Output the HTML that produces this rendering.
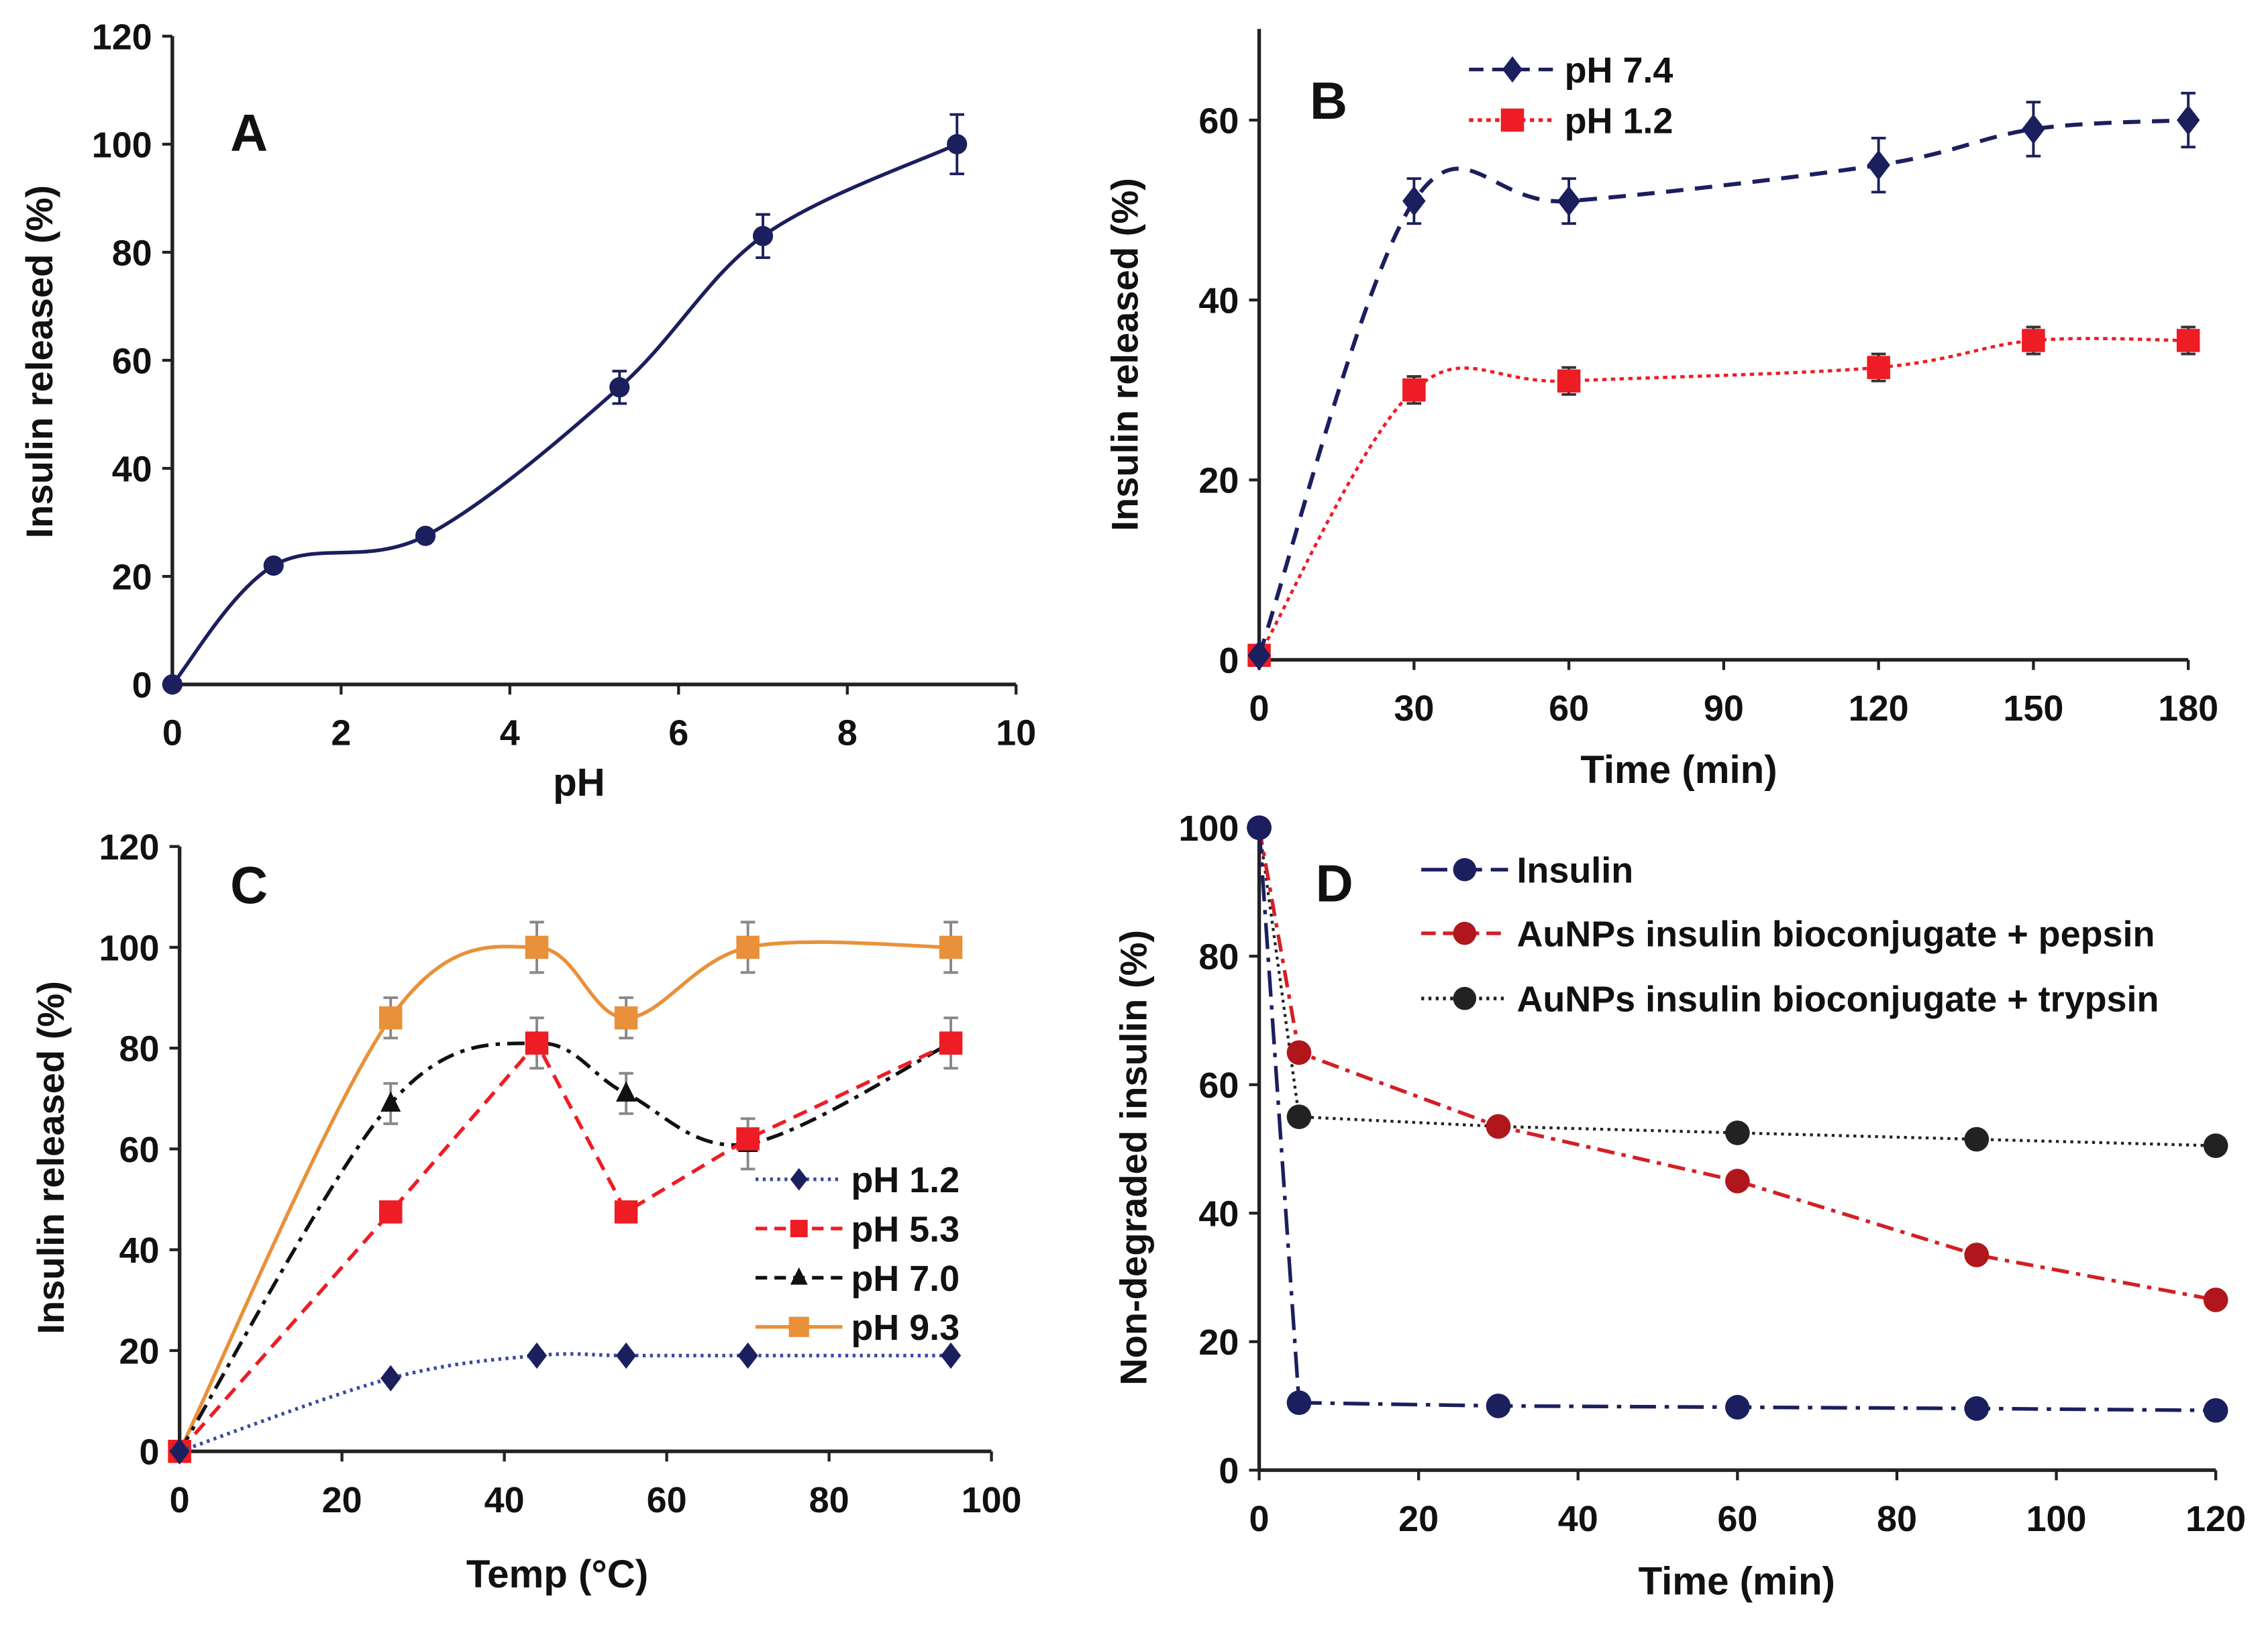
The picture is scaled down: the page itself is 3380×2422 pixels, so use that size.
<!DOCTYPE html>
<html><head><meta charset="utf-8">
<style>
html,body{margin:0;padding:0;background:#fff;}
svg{display:block;}
text{font-family:"Liberation Sans",sans-serif;font-weight:bold;fill:#111;}
</style></head>
<body>
<svg id="fig" width="3380" height="2422" viewBox="0 0 1567 1123" xmlns="http://www.w3.org/2000/svg"></svg>
<script>
// ---- Panel A data ----
const aX = [0, 1.2, 3, 5.3, 7, 9.3];
const aY = [0, 22, 27.5, 55, 83, 100];
const aErr = [0.5, 1, 1, 3, 4, 5.5];
const aXTicks = [0, 2, 4, 6, 8, 10];
const aYTicks = [0, 20, 40, 60, 80, 100, 120];
// ---- Panel B data ----
const bX = [0, 30, 60, 120, 150, 180];
const b74 = [0.5, 51, 51, 55, 59, 60];
const b74Err = [0.5, 2.5, 2.5, 3, 3, 3];
const b12 = [0.5, 30, 31, 32.5, 35.5, 35.5];
const b12Err = [0.5, 1.5, 1.5, 1.5, 1.5, 1.5];
const bXTicks = [0, 30, 60, 90, 120, 150, 180];
const bYTicks = [0, 20, 40, 60];
// ---- Panel C data ----
const cX = [0, 26, 44, 55, 70, 95];
const c12 = [0, 14.5, 19, 19, 19, 19];
const c53 = [0, 47.5, 81, 47.5, 62, 81];
const c70 = [0, 69, 81, 71, 61, 81];
const c93 = [0, 86, 100, 86, 100, 100];
const cErr = [0, 4, 5, 4, 5, 5];
const cXTicks = [0, 20, 40, 60, 80, 100];
const cYTicks = [0, 20, 40, 60, 80, 100, 120];
// ---- Panel D data ----
const dX = [0, 5, 30, 60, 90, 120];
const dInsulin = [100, 10.5, 10, 9.8, 9.6, 9.3];
const dPepsin = [100, 65, 53.5, 45, 33.5, 26.5];
const dTrypsin = [100, 55, 53.5, 52.5, 51.5, 50.5];
const dXTicks = [0, 20, 40, 60, 80, 100, 120];
const dYTicks = [0, 20, 40, 60, 80, 100];

const NS = "http://www.w3.org/2000/svg";
const svg = document.getElementById('fig');
function mk(tag, attrs, parent) {
  const e = document.createElementNS(NS, tag);
  for (const k in attrs) e.setAttribute(k, attrs[k]);
  (parent || svg).appendChild(e);
  return e;
}
function txt(x, y, s, size, anchor, parent) {
  const t = mk('text', {x: x, y: y, 'font-size': size, 'text-anchor': anchor || 'middle'}, parent);
  t.textContent = s;
  return t;
}
function scale(d0, d1, r0, r1) { return v => r0 + (v - d0) / (d1 - d0) * (r1 - r0); }
function smoothPath(pts) {
  let d = 'M' + pts[0][0] + ',' + pts[0][1];
  for (let i = 0; i < pts.length - 1; i++) {
    const p0 = pts[i - 1] || pts[i], p1 = pts[i], p2 = pts[i + 1], p3 = pts[i + 2] || p2;
    const c1 = [p1[0] + (p2[0] - p0[0]) / 6, p1[1] + (p2[1] - p0[1]) / 6];
    const c2 = [p2[0] - (p3[0] - p1[0]) / 6, p2[1] - (p3[1] - p1[1]) / 6];
    d += ' C' + c1 + ' ' + c2 + ' ' + p2;
  }
  return d;
}
function linePath(pts) { return 'M' + pts.map(p => p.join(',')).join(' L'); }
function axes(g, sx, sy, xTicks, yTicks, x0, y0, xEnd, yTop) {
  const ax = mk('line', {x1: sx(x0), y1: sy(y0), x2: sx(xEnd), y2: sy(y0), stroke: '#222', 'stroke-width': 2.5}, g);
  
  
  const ay = mk('line', {x1: sx(x0), y1: sy(y0), x2: sx(x0), y2: yTop, stroke: '#222', 'stroke-width': 2.5}, g);
  
  
  xTicks.forEach(v => {
    mk('line', {x1: sx(v), y1: sy(y0), x2: sx(v), y2: sy(y0) + 7, stroke: '#222', 'stroke-width': 2}, g);
    const t = txt(sx(v), sy(y0) + 42, String(v), 25, 'middle', g);
    
    
  });
  yTicks.forEach(v => {
    mk('line', {x1: sx(x0) - 7, y1: sy(v), x2: sx(x0), y2: sy(v), stroke: '#222', 'stroke-width': 2}, g);
    const t = txt(sx(x0) - 14, sy(v) + 9, String(v), 25, 'end', g);
    
    
  });
}
function marker(g, shape, x, y, size, color) {
  if (shape === 'circle') return mk('circle', {cx: x, cy: y, r: size, fill: color}, g);
  if (shape === 'square') return mk('rect', {x: x - size, y: y - size, width: 2 * size, height: 2 * size, fill: color}, g);
  if (shape === 'diamond') return mk('polygon', {points: [x, y - size * 1.3, x + size, y, x, y + size * 1.3, x - size, y].join(','), fill: color}, g);
  if (shape === 'triangle') return mk('polygon', {points: [x, y - size * 1.2, x + size, y + size * 0.8, x - size, y + size * 0.8].join(','), fill: color}, g);
}
function series(g, name, sx, sy, xs, ys, errs, opt) {
  const sg = mk('g', {}, g);
  
  
  const pts = xs.map((x, i) => [sx(x), sy(ys[i])]);
  mk('path', {d: opt.smooth ? smoothPath(pts) : linePath(pts), fill: 'none', stroke: opt.color, 'stroke-width': opt.width || 2.5, 'stroke-dasharray': opt.dash || 'none'}, sg);
  if (errs) xs.forEach((x, i) => {
    const e = errs[i]; if (!e) return;
    const px = sx(x), t = sy(ys[i] + e), b = sy(ys[i] - e);
    mk('path', {d: `M${px},${t} L${px},${b} M${px - 5},${t} L${px + 5},${t} M${px - 5},${b} L${px + 5},${b}`, stroke: opt.errColor || opt.color, 'stroke-width': 1.8, fill: 'none'}, sg);
  });
  pts.forEach(p => {
    const m = marker(sg, opt.shape, p[0], p[1], opt.size, opt.mcolor || opt.color);
    
    
  });
}
function legendEntry(g, name, x, y, label, opt) {
  const lg = mk('g', {}, g);
  
  
  mk('line', {x1: x - 30, y1: y, x2: x + 30, y2: y, stroke: opt.color, 'stroke-width': opt.width || 2.5, 'stroke-dasharray': opt.dash || 'none'}, lg);
  marker(lg, opt.shape, x, y, opt.size, opt.mcolor || opt.color);
  txt(x + 36, y + 9, label, 25, 'start', lg);
}
function panel(name) {
  const g = mk('g', {});
  
  
  return g;
}
function rotLabel(g, x, y, s, name) {
  const t = txt(x, y, s, 26, 'middle', g);
  t.setAttribute('transform', `rotate(-90 ${x} ${y})`);
  
  
}
const NAVY = '#1b1f5e', RED = '#ee1c24', ORANGE = '#e8913a', DRED = '#b0161c';

// ===== Panel A =====
{
  const g = panel('panel-a');
  const sx = scale(0, 10, 119, 702), sy = scale(0, 120, 473, 25);
  axes(g, sx, sy, aXTicks, aYTicks, 0, 0, 10, 25);
  series(g, 'series-ph-curve', sx, sy, aX, aY, aErr, {color: NAVY, smooth: true, shape: 'circle', size: 7});
  const l = txt(172, 104, 'A', 36, 'middle', g);  
  const xt = txt(400, 550, 'pH', 27, 'middle', g);  
  rotLabel(g, 36, 250, 'Insulin released (%)', 'y-axis-title');
}
// ===== Panel B =====
{
  const g = panel('panel-b');
  const sx = scale(0, 180, 870, 1512), sy = scale(0, 60, 456, 83);
  axes(g, sx, sy, bXTicks, bYTicks, 0, 0, 180, 20);
  series(g, 'series-ph-1-2', sx, sy, bX, b12, b12Err, {color: RED, smooth: true, shape: 'square', size: 8, dash: '3,3', width: 2.2, errColor: '#333'});
  series(g, 'series-ph-7-4', sx, sy, bX, b74, b74Err, {color: NAVY, smooth: true, shape: 'diamond', size: 8, dash: '12,8', width: 2.8});
  legendEntry(g, 'legend-ph-7-4', 1045, 48, 'pH 7.4', {color: NAVY, shape: 'diamond', size: 7, dash: '10,6'});
  legendEntry(g, 'legend-ph-1-2', 1045, 83, 'pH 1.2', {color: RED, shape: 'square', size: 8, dash: '3,3'});
  const l = txt(918, 82, 'B', 36, 'middle', g);  
  const xt = txt(1160, 541, 'Time (min)', 27, 'middle', g);  
  rotLabel(g, 786, 245, 'Insulin released (%)', 'y-axis-title');
}
// ===== Panel C =====
{
  const g = panel('panel-c');
  const sx = scale(0, 100, 124, 685), sy = scale(0, 120, 1003, 585);
  axes(g, sx, sy, cXTicks, cYTicks, 0, 0, 100, 585);
  series(g, 'series-ph-9-3', sx, sy, cX, c93, cErr, {color: ORANGE, smooth: true, shape: 'square', size: 8, errColor: '#888'});
  series(g, 'series-ph-7-0', sx, sy, cX, c70, cErr, {color: '#111', smooth: true, shape: 'triangle', size: 7, dash: '12,5,3,5', errColor: '#888'});
  series(g, 'series-ph-5-3', sx, sy, cX, c53, null, {color: RED, smooth: false, shape: 'square', size: 8, dash: '10,6'});
  series(g, 'series-ph-1-2', sx, sy, cX, c12, null, {color: '#3a4aa0', smooth: true, shape: 'diamond', size: 7, dash: '2,3', mcolor: NAVY});
  legendEntry(g, 'legend-ph-1-2', 552, 815, 'pH 1.2', {color: '#3a4aa0', shape: 'diamond', size: 6, dash: '2,3', mcolor: NAVY});
  legendEntry(g, 'legend-ph-5-3', 552, 849, 'pH 5.3', {color: RED, shape: 'square', size: 6, dash: '8,5'});
  legendEntry(g, 'legend-ph-7-0', 552, 883, 'pH 7.0', {color: '#111', shape: 'triangle', size: 6, dash: '8,5'});
  legendEntry(g, 'legend-ph-9-3', 552, 917, 'pH 9.3', {color: ORANGE, shape: 'square', size: 7});
  const l = txt(172, 624, 'C', 36, 'middle', g);  
  const xt = txt(385, 1097, 'Temp (°C)', 27, 'middle', g);  
  rotLabel(g, 44, 800, 'Insulin released (%)', 'y-axis-title');
}
// ===== Panel D =====
{
  const g = panel('panel-d');
  const sx = scale(0, 120, 870, 1531), sy = scale(0, 100, 1016, 572);
  axes(g, sx, sy, dXTicks, dYTicks, 0, 0, 120, 572);
  series(g, 'series-trypsin', sx, sy, dX, dTrypsin, null, {color: '#222', shape: 'circle', size: 8.5, dash: '2,3', width: 2});
  series(g, 'series-pepsin', sx, sy, dX, dPepsin, null, {color: '#d22025', shape: 'circle', size: 8.5, dash: '12,5,3,5', mcolor: DRED});
  series(g, 'series-insulin', sx, sy, dX, dInsulin, null, {color: NAVY, shape: 'circle', size: 8.5, dash: '18,6,3,6'});
  legendEntry(g, 'legend-insulin', 1012, 601, 'Insulin', {color: NAVY, shape: 'circle', size: 8, dash: '18,6'});
  legendEntry(g, 'legend-pepsin', 1012, 645, 'AuNPs insulin bioconjugate + pepsin', {color: '#d22025', shape: 'circle', size: 8, dash: '10,5', mcolor: DRED});
  legendEntry(g, 'legend-trypsin', 1012, 690, 'AuNPs insulin bioconjugate + trypsin', {color: '#222', shape: 'circle', size: 8, dash: '2,3'});
  const l = txt(922, 623, 'D', 36, 'middle', g);  
  const xt = txt(1200, 1102, 'Time (min)', 27, 'middle', g);  
  rotLabel(g, 792, 800, 'Non-degraded insulin (%)', 'y-axis-title');
}
</script>
</body></html>
